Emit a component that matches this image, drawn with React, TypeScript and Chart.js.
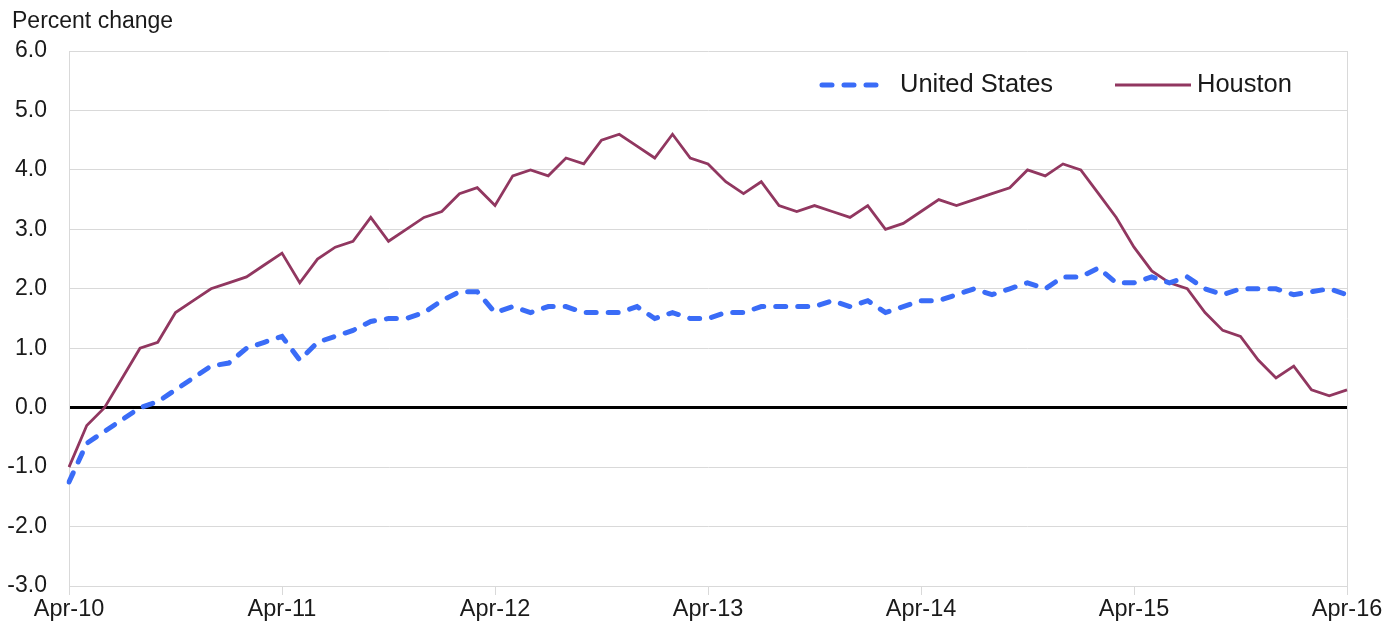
import React, { useEffect, useRef } from "react";
import { Chart, registerables } from "chart.js";

Chart.register(...registerables);

const MONTH_NAMES = ["Apr", "May", "Jun", "Jul", "Aug", "Sep", "Oct", "Nov", "Dec", "Jan", "Feb", "Mar"];
const START_YEAR = 10;
const N_POINTS = 73;

const categories: string[] = [];
for (let i = 0; i < N_POINTS; i++) {
  const m = i % 12;
  const yr = START_YEAR + Math.floor(i / 12) + (m >= 9 ? 1 : 0);
  categories.push(`${MONTH_NAMES[m]}-${yr}`);
}

const unitedStates = [
  -1.25, -0.6, -0.4, -0.2, 0.0, 0.1, 0.3, 0.5, 0.7, 0.75, 1.0, 1.1,
  1.2, 0.8, 1.1, 1.2, 1.3, 1.45, 1.5, 1.5, 1.6, 1.8, 1.95, 1.95,
  1.6, 1.7, 1.6, 1.7, 1.7, 1.6, 1.6, 1.6, 1.7, 1.5, 1.6, 1.5,
  1.5, 1.6, 1.6, 1.7, 1.7, 1.7, 1.7, 1.8, 1.7, 1.8, 1.6, 1.7,
  1.8, 1.8, 1.9, 2.0, 1.9, 2.0, 2.1, 2.0, 2.2, 2.2, 2.35, 2.1,
  2.1, 2.2, 2.1, 2.2, 2.0, 1.9, 2.0, 2.0, 2.0, 1.9, 1.95, 2.0,
  1.9,
];

const houston = [
  -1.0, -0.3, 0.0, 0.5, 1.0, 1.1, 1.6, 1.8, 2.0, 2.1, 2.2, 2.4,
  2.6, 2.1, 2.5, 2.7, 2.8, 3.2, 2.8, 3.0, 3.2, 3.3, 3.6, 3.7,
  3.4, 3.9, 4.0, 3.9, 4.2, 4.1, 4.5, 4.6, 4.4, 4.2, 4.6, 4.2,
  4.1, 3.8, 3.6, 3.8, 3.4, 3.3, 3.4, 3.3, 3.2, 3.4, 3.0, 3.1,
  3.3, 3.5, 3.4, 3.5, 3.6, 3.7, 4.0, 3.9, 4.1, 4.0, 3.6, 3.2,
  2.7, 2.3, 2.1, 2.0, 1.6, 1.3, 1.2, 0.8, 0.5, 0.7, 0.3, 0.2,
  0.3,
];

const SERIES_NAMES = ["United States", "Houston"];
const Y_TITLE = "Percent change";

const FONT = "'Liberation Sans', Arial, sans-serif";
const TEXT = "#1a1a1a";
const GRID = "#d9d9d9";
const US_COLOR = "#3a6cf7";
const HOU_COLOR = "#913760";

const overlayPlugin = {
  id: "overlay",
  afterDraw(chart: any) {
    const ctx = chart.ctx;
    ctx.save();
    ctx.font = `23px ${FONT}`;
    ctx.fillStyle = TEXT;
    ctx.textBaseline = "middle";
    ctx.textAlign = "left";
    ctx.fillText(Y_TITLE, 12, 22);

    const ly = 85;
    ctx.font = `25.5px ${FONT}`;
    // United States legend
    ctx.strokeStyle = US_COLOR;
    ctx.lineWidth = 5;
    ctx.lineCap = "round";
    ctx.setLineDash([10, 12]);
    ctx.beginPath();
    ctx.moveTo(822, ly);
    ctx.lineTo(886, ly);
    ctx.stroke();
    ctx.setLineDash([]);
    ctx.fillStyle = TEXT;
    ctx.fillText(SERIES_NAMES[0], 900, ly);

    ctx.strokeStyle = HOU_COLOR;
    ctx.lineWidth = 3;
    ctx.lineCap = "butt";
    ctx.beginPath();
    ctx.moveTo(1115, ly);
    ctx.lineTo(1191, ly);
    ctx.stroke();
    ctx.fillText(SERIES_NAMES[1], 1197, ly);
    ctx.restore();
  },
};

export default function App() {
  const ref = useRef<HTMLCanvasElement | null>(null);

  useEffect(() => {
    if (!ref.current) return;
    const chart = new Chart(ref.current, {
      type: "line",
      data: {
        labels: categories,
        datasets: [
          {
            label: SERIES_NAMES[0],
            data: unitedStates,
            borderColor: US_COLOR,
            borderWidth: 5,
            borderDash: [10, 12],
            borderCapStyle: "round",
            pointRadius: 0,
            tension: 0,
            fill: false,
          },
          {
            label: SERIES_NAMES[1],
            data: houston,
            borderColor: HOU_COLOR,
            borderWidth: 2.8,
            pointRadius: 0,
            tension: 0,
            fill: false,
          },
        ],
      },
      options: {
        animation: false,
        responsive: false,
        maintainAspectRatio: false,
        events: [],
        layout: { padding: { top: 51, right: 38, bottom: 0, left: 0 } },
        plugins: {
          legend: { display: false },
          tooltip: { enabled: false },
        },
        scales: {
          x: {
            type: "category",
            offset: false,
            border: { display: true, color: GRID, width: 1 },
            grid: {
              drawOnChartArea: true,
              drawTicks: true,
              tickLength: 9,
              color: (c: any) => (c.index === N_POINTS - 1 ? GRID : "rgba(0,0,0,0)"),
              tickColor: (c: any) => (c.index % 12 === 0 ? GRID : "rgba(0,0,0,0)"),
            },
            ticks: {
              autoSkip: false,
              maxRotation: 0,
              minRotation: 0,
              padding: 0,
              color: TEXT,
              font: { family: FONT, size: 23.5 },
              callback: (_v: any, i: number) => (i % 12 === 0 ? categories[i] : ""),
            },
            afterFit: (s: any) => {
              s.height = 36;
            },
          },
          y: {
            min: -3,
            max: 6,
            border: { display: true, color: GRID, width: 1 },
            grid: {
              drawTicks: false,
              color: (c: any) => (c.tick && c.tick.value === 0 ? "#000000" : GRID),
              lineWidth: (c: any) => (c.tick && c.tick.value === 0 ? 3 : 1),
            },
            ticks: {
              stepSize: 1,
              padding: 22,
              color: TEXT,
              font: { family: FONT, size: 23 },
              callback: (v: any) => Number(v).toFixed(1),
            },
            afterFit: (s: any) => {
              s.width = 69;
            },
          },
        },
      },
      plugins: [overlayPlugin],
    });
    return () => chart.destroy();
  }, []);

  return (
    <div style={{ position: "fixed", left: 0, top: 0, width: 1385, height: 622, background: "#fff" }}>
      <canvas ref={ref} width={1385} height={622} style={{ display: "block", width: 1385, height: 622 }} />
    </div>
  );
}
